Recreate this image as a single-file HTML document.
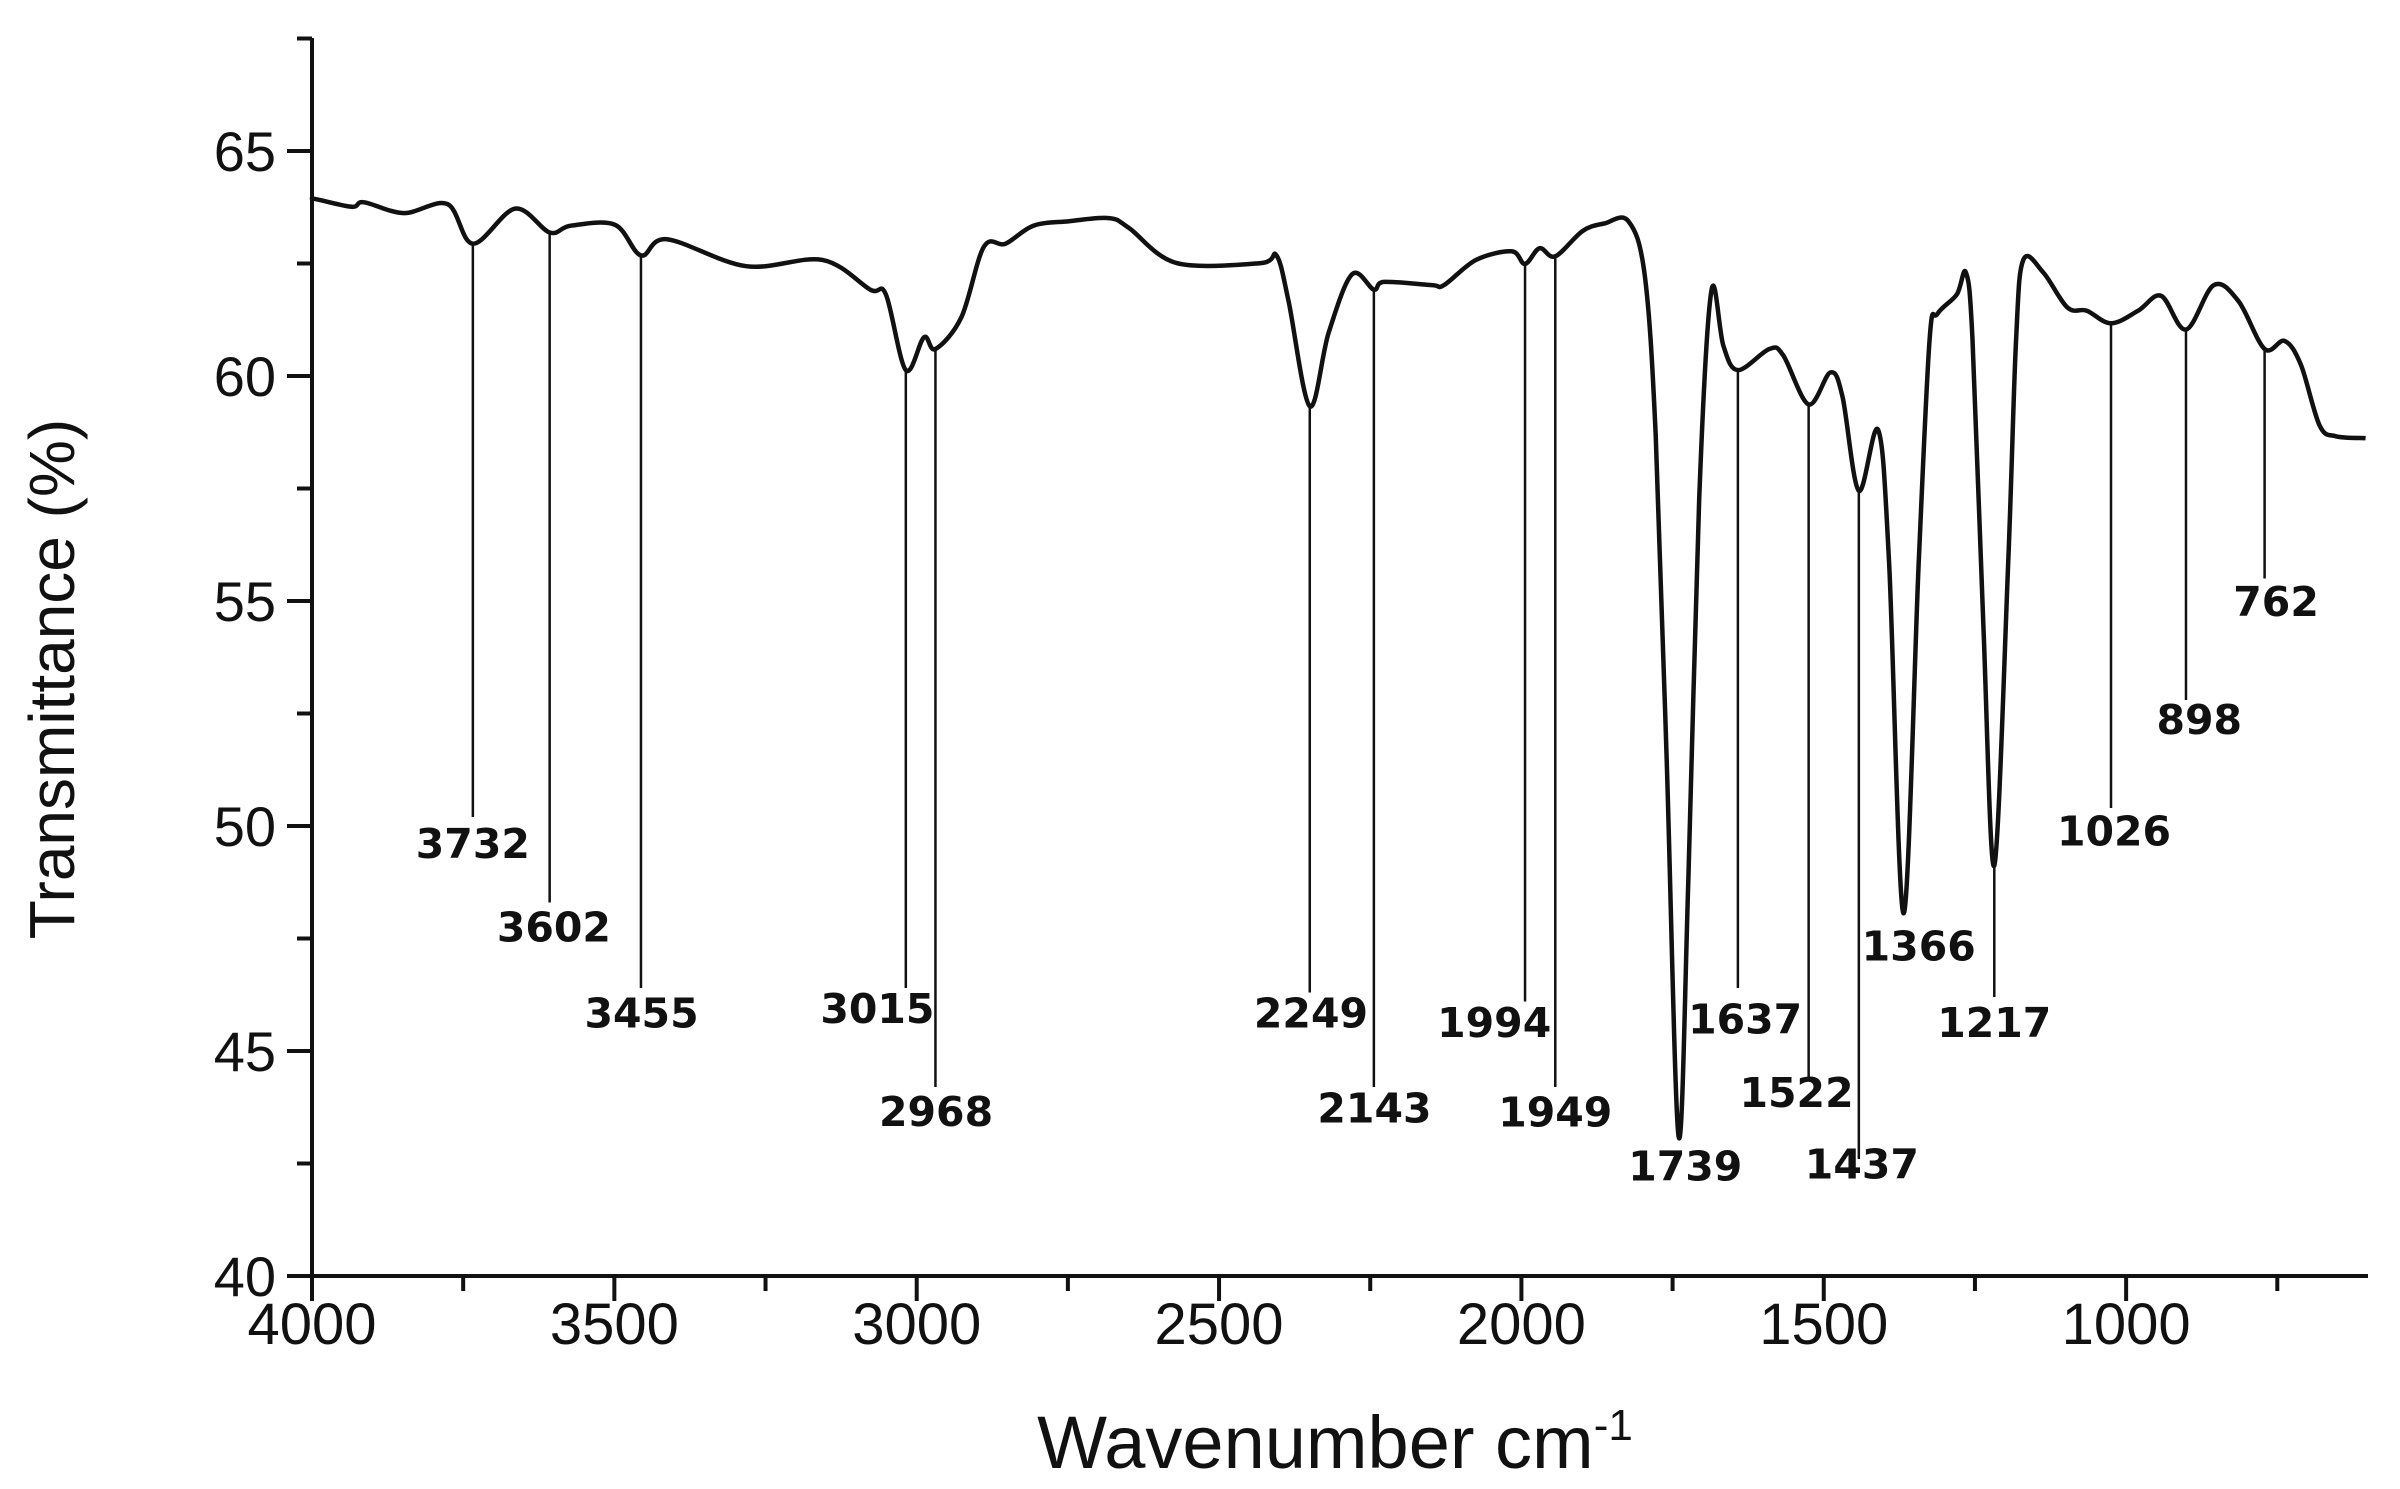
<!DOCTYPE html>
<html><head><meta charset="utf-8"><style>
html,body{margin:0;padding:0;background:#fff;}
svg{display:block;}
</style></head><body>
<svg id="chart" width="2400" height="1489" viewBox="0 0 2400 1489" xmlns="http://www.w3.org/2000/svg">
<g id="axes"></g>
<g id="markers"></g>
<path id="spectrum" fill="none" stroke="#111" stroke-width="4.5" stroke-linejoin="round"/>
<text x="0" y="0" transform="translate(74,679) rotate(-90)" text-anchor="middle" font-family="Liberation Sans, sans-serif" font-size="64" fill="#111">Transmittance (%)</text>
<text x="1335" y="1468" text-anchor="middle" font-family="Liberation Sans, sans-serif" font-size="74" fill="#111">Wavenumber cm<tspan dy="-28" font-size="44">-1</tspan></text>
</svg>
<script>
const wavenumbers = [4000,3993,3934,3914,3848,3776,3734,3664,3607,3572,3499,3456,3413,3282,3156,3077,3051,3018,2988,2969,2926,2889,2853,2807,2748,2682,2649,2570,2431,2405,2385,2350,2319,2280,2244,2227,2148,2128,2075,2016,1994,1970,1944,1899,1863,1823,1796,1778,1760,1740,1724,1706,1686,1666,1642,1590,1567,1525,1489,1469,1442,1410,1392,1368,1343,1325,1312,1280,1265,1254,1236,1218,1195,1182,1170,1137,1097,1065,1025,980,942,901,855,814,771,738,711,680,653,604];
const transmittance = [63.93,63.93,63.76,63.86,63.62,63.82,62.94,63.72,63.19,63.34,63.36,62.68,63.04,62.44,62.58,61.92,61.81,60.13,60.86,60.6,61.31,62.87,62.94,63.34,63.44,63.51,63.29,62.51,62.51,62.68,61.66,59.33,60.95,62.26,61.92,62.09,62.02,62.02,62.58,62.77,62.49,62.84,62.66,63.22,63.39,63.44,62.23,58.69,51.6,43.1,48.77,57.27,61.88,60.67,60.13,60.6,60.46,59.37,60.08,59.54,57.45,58.8,55.85,48.06,55.85,60.81,61.38,61.81,62.3,60.81,54.44,49.12,55.85,60.81,62.58,62.3,61.52,61.45,61.17,61.45,61.78,61.03,62.02,61.66,60.6,60.78,60.25,58.9,58.66,58.62];
const peakLabels = ["3732","3602","3455","3015","2968","2249","2143","1994","1949","1739","1637","1522","1437","1366","1217","1026","898","762"];
const peakLineX = [3734,3607,3456,3018,2969,2350,2244,1994,1944,null,1642,1525,1442,null,1218,1025,901,771];
const peakLineTop = [62.94,63.19,62.68,60.13,60.6,59.33,61.92,62.49,62.66,null,60.13,59.37,57.45,null,49.12,61.17,61.03,60.6];
const peakLineBottom = [50.2,48.3,46.4,46.4,44.2,46.3,44.2,46.1,44.2,null,46.4,44.4,42.6,null,46.2,50.4,52.8,55.5];
const peakLabelX = [3734,3600,3455,3065,2968,2348,2243,2045,1944,1729,1630,1545,1437,1343,1218,1020,879,752];
const peakLabelY = [49.62,47.77,45.86,45.96,43.67,45.86,43.74,45.65,43.66,42.46,45.72,44.09,42.5,47.35,45.65,49.9,52.38,55.0];
const xTicks = [4000,3500,3000,2500,2000,1500,1000];
const yTicks = [40,45,50,55,60,65];

const NS="http://www.w3.org/2000/svg";
const X0=312, X1=2368, WN0=4000, WN1=600;
const Y40=1276, PXU=45, YTOP=38;
const sx = w => X0 + (WN0-w)/(WN0-WN1)*(X1-X0);
const sy = t => Y40 - (t-40)*PXU;
function mk(tag, attrs, parent){const e=document.createElementNS(NS,tag);for(const k in attrs)e.setAttribute(k,attrs[k]);parent.appendChild(e);return e;}
const axes=document.getElementById('axes');
const markers=document.getElementById('markers');

let e=mk('line',{x1:X0,y1:YTOP,x2:X0,y2:Y40,stroke:'#111','stroke-width':4},axes);


e=mk('line',{x1:X0-2,y1:Y40,x2:X1,y2:Y40,stroke:'#111','stroke-width':4},axes);


xTicks.forEach(v=>{
  const x=sx(v);
  const t=mk('line',{x1:x,y1:Y40,x2:x,y2:Y40+25,stroke:'#111','stroke-width':4},axes);
  
  
  const l=mk('text',{x:x,y:Y40+68,'text-anchor':'middle','font-family':'Liberation Sans, sans-serif','font-size':58,fill:'#111'},axes);
  l.textContent=v;
  
  
  const m=v-250;
  if(m>WN1){const mx=sx(m);const mt=mk('line',{x1:mx,y1:Y40,x2:mx,y2:Y40+15,stroke:'#111','stroke-width':4},axes);
  
  }
});
yTicks.forEach(v=>{
  const y=sy(v);
  const t=mk('line',{x1:X0-25,y1:y,x2:X0,y2:y,stroke:'#111','stroke-width':4},axes);
  
  
  const l=mk('text',{x:X0-36,y:y+20,'text-anchor':'end','font-family':'Liberation Sans, sans-serif','font-size':56,fill:'#111'},axes);
  l.textContent=v;
  
  
  const m=v+2.5; const my=sy(m);
  if(my>YTOP){const mt=mk('line',{x1:X0-15,y1:my,x2:X0,y2:my,stroke:'#111','stroke-width':4},axes);
  
  }
});

const pts=wavenumbers.map((w,i)=>[sx(w),sy(transmittance[i])]);
let d='M'+pts[0][0].toFixed(1)+','+pts[0][1].toFixed(1);
for(let i=0;i<pts.length-1;i++){
  const p0=pts[Math.max(0,i-1)],p1=pts[i],p2=pts[i+1],p3=pts[Math.min(pts.length-1,i+2)];
  const k=1/6;
  const c1=[p1[0]+(p2[0]-p0[0])*k,p1[1]+(p2[1]-p0[1])*k];
  const c2=[p2[0]-(p3[0]-p1[0])*k,p2[1]-(p3[1]-p1[1])*k];
  d+=' C'+c1[0].toFixed(1)+','+c1[1].toFixed(1)+' '+c2[0].toFixed(1)+','+c2[1].toFixed(1)+' '+p2[0].toFixed(1)+','+p2[1].toFixed(1);
}
document.getElementById('spectrum').setAttribute('d',d);

peakLabels.forEach((lab,i)=>{
  if(peakLineX[i]!==null){
    const x=sx(peakLineX[i]);
    const ln=mk('line',{x1:x,y1:sy(peakLineTop[i]),x2:x,y2:sy(peakLineBottom[i]),stroke:'#111','stroke-width':2.5},markers);
    
    
  }
  const t=mk('text',{x:sx(peakLabelX[i]),y:sy(peakLabelY[i])+15,'text-anchor':'middle','font-family':'DejaVu Sans, sans-serif','font-weight':'bold','font-size':41,fill:'#111'},markers);
  t.textContent=lab;
  
  
});
</script>
</body></html>
